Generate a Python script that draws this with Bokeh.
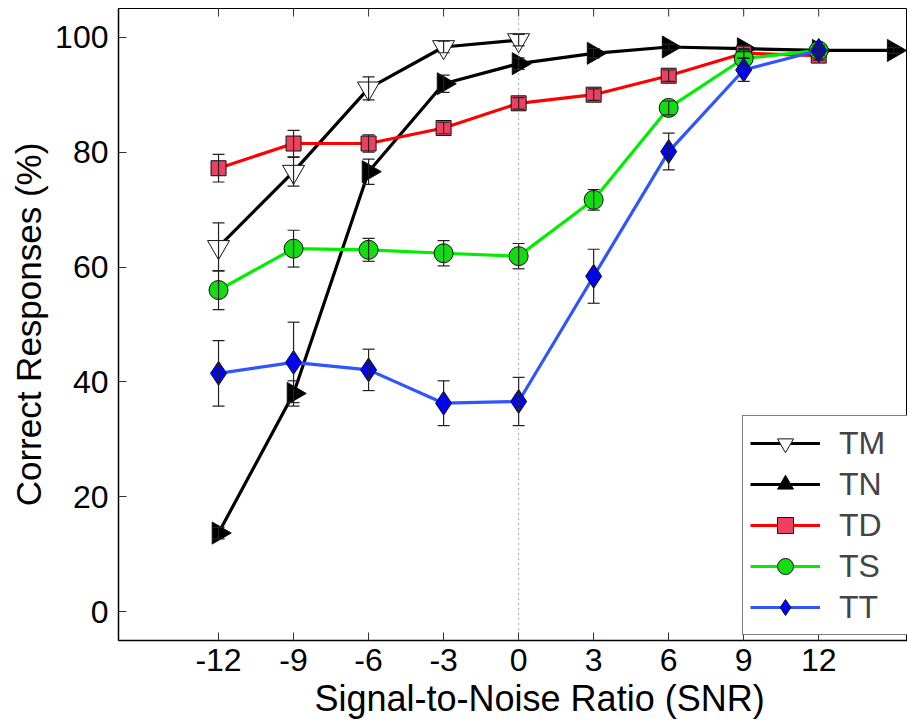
import numpy as np
from bokeh.plotting import figure
from bokeh.models import (ColumnDataSource, Whisker, TeeHead, Span, Range1d,
                          FixedTicker, Title)
from bokeh.embed import file_html
from bokeh.resources import INLINE

# ---------------- data ----------------
snr_ticks = [-12, -9, -6, -3, 0, 3, 6, 9, 12]
y_ticks = [0, 20, 40, 60, 80, 100]
ref_snr = 0
x_lim = (-16, 15.55)
y_lim = (-5, 105)

tm_x = [-12, -9, -6, -3, 0]
tm_y = [63.5, 76.6, 91.1, 98.3, 99.5]
tm_e = [4.2, 2.5, 2.0, 1.0, 1.0]

tn_x = [-12, -9, -6, -3, 0, 3, 6, 9, 12, 15]
tn_y = [13.7, 38.0, 76.6, 91.9, 95.4, 97.2, 98.3, 98.0, 97.7, 97.7]
tn_e = [1.0, 2.2, 2.2, 1.5, 1.0, 0.8, 0.5, 0.5, 0.5, 0.5]

td_x = [-12, -9, -6, -3, 0, 3, 6, 9, 12]
td_y = [77.2, 81.5, 81.5, 84.2, 88.5, 90.0, 93.3, 97.2, 96.8]
td_e = [2.4, 2.3, 1.5, 1.0, 1.0, 1.0, 1.0, 0.8, 0.8]

ts_x = [-12, -9, -6, -3, 0, 3, 6, 9, 12]
ts_y = [56.0, 63.2, 63.0, 62.4, 61.9, 71.7, 87.7, 96.3, 97.7]
ts_e = [3.4, 3.2, 2.0, 2.2, 2.2, 1.8, 1.2, 1.5, 0.8]

tt_x = [-12, -9, -6, -3, 0, 3, 6, 9, 12]
tt_y = [41.5, 43.4, 42.1, 36.3, 36.6, 58.4, 80.1, 94.3, 97.7]
tt_e = [5.7, 7.0, 3.6, 3.9, 4.2, 4.7, 3.2, 2.0, 0.8]

FONT = "Liberation Sans"

p = figure(width=907, height=725, x_range=Range1d(*x_lim), y_range=Range1d(*y_lim),
           output_backend="svg", toolbar_location=None,
           min_border_left=118, min_border_right=0, min_border_top=8, min_border_bottom=85,
           background_fill_color="white", border_fill_color="white")
p.outline_line_color = "black"
p.outline_line_width = 1
p.xgrid.visible = False
p.ygrid.visible = False

for ax in (p.xaxis[0], p.yaxis[0]):
    ax.major_tick_in = 8
    ax.major_tick_out = 0
    ax.minor_tick_line_color = None
    ax.axis_line_width = 1.5
    ax.axis_line_color = "black"
    ax.major_tick_line_color = "#333333"
    ax.major_label_text_font = FONT
    ax.major_label_text_font_size = "32px"
    ax.major_label_text_color = "black"
    ax.axis_label_text_font = FONT
    ax.axis_label_text_font_style = "normal"
    ax.axis_label_text_font_size = "35px"
    ax.axis_label_text_color = "black"

p.xaxis[0].ticker = FixedTicker(ticks=snr_ticks)
p.xaxis[0].major_label_overrides = {t: str(t) for t in snr_ticks}
p.xaxis[0].major_label_standoff = 8
p.yaxis[0].ticker = FixedTicker(ticks=y_ticks)
p.yaxis[0].major_label_overrides = {t: str(t) for t in y_ticks}
p.yaxis[0].major_label_standoff = 10
p.yaxis[0].axis_label = "Correct Responses (%)"
p.yaxis[0].axis_label_standoff = 4

# x axis title, placed under the tick labels
p.add_layout(Title(text="Signal-to-Noise Ratio (SNR)", align="left", offset=196,
                   standoff=5, text_font=FONT, text_font_size="36px",
                   text_font_style="normal", text_color="black"), "below")

# inward ticks along the top edge of the box (half of each dash is clipped by the frame)
p.scatter(snr_ticks, [y_lim[1]] * len(snr_ticks), marker="dash", angle=np.pi / 2,
          size=16, line_color="#333333", line_width=1)

p.add_layout(Span(location=ref_snr, dimension="height", line_color="#555555",
                  line_dash="1 4", line_width=1))


def add_series(xs, ys, es, label, line_color, marker, size, fill, angle=0.0):
    src = ColumnDataSource(dict(x=xs, y=ys,
                                upper=[a + b for a, b in zip(ys, es)],
                                lower=[a - b for a, b in zip(ys, es)]))
    p.add_layout(Whisker(base="x", upper="upper", lower="lower", source=src,
                         line_color="#222222", line_width=1.2, level="glyph",
                         upper_head=TeeHead(size=12, line_color="#222222", line_width=1.2),
                         lower_head=TeeHead(size=12, line_color="#222222", line_width=1.2)))
    p.line("x", "y", source=src, line_color=line_color, line_width=3.2, legend_label=label)
    p.scatter("x", "y", source=src, marker=marker, size=size, fill_color=fill,
              line_color="#111111", line_width=1, angle=angle, legend_label=label)


add_series(tm_x, tm_y, tm_e, "TM", "black", "inverted_triangle", 22, "white")
add_series(tn_x, tn_y, tn_e, "TN", "black", "triangle", 22, "black", angle=-np.pi / 2)
add_series(td_x, td_y, td_e, "TD", "#ff0000", "square", 15, "#ee4060")
add_series(ts_x, ts_y, ts_e, "TS", "#00ee00", "circle", 19, "#11dd11")
add_series(tt_x, tt_y, tt_e, "TT", "#2f55ff", "diamond", 24, "#0000ff")

lg = p.legend[0]
lg.location = (624, 5)
lg.padding = 7
lg.spacing = 1
lg.glyph_width = 70
lg.glyph_height = 40
lg.label_height = 40
lg.label_width = 90
lg.label_standoff = 19
lg.label_text_font = FONT
lg.label_text_font_size = "32px"
lg.border_line_color = "black"
lg.border_line_width = 1
lg.background_fill_alpha = 1.0
lg.margin = 0

open("out.html", "w").write(file_html(p, INLINE))
